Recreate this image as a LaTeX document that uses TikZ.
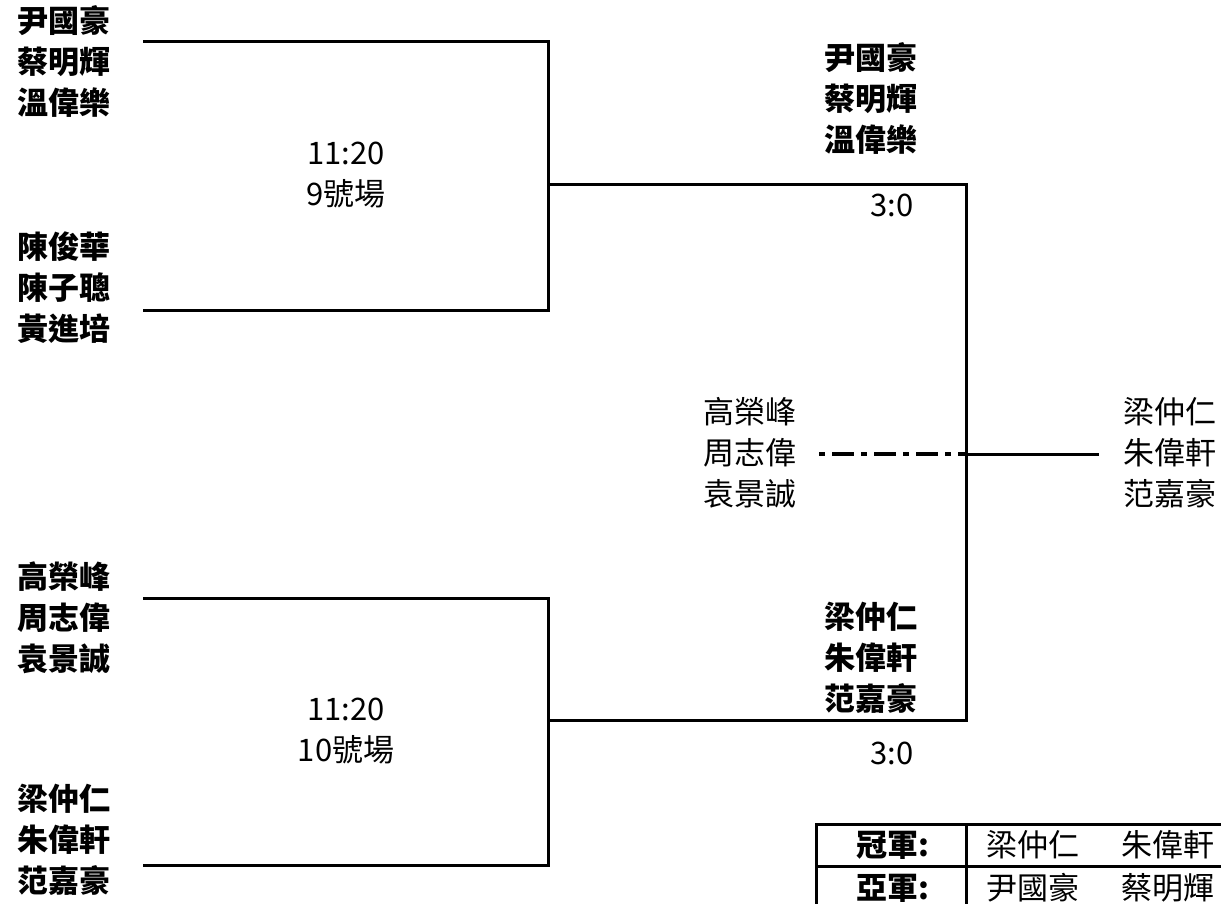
\documentclass[tikz,border=0pt]{standalone}
\usepackage{fontspec}
\setmainfont{Noto Sans CJK TC}
\begin{document}
\begin{tikzpicture}[
        x=1pt, y=-1pt,
        team/.style={font=\fontsize{31}{41}\selectfont\bfseries, align=left, inner sep=0pt},
        teamlight/.style={font=\fontsize{31}{41}\selectfont, align=left, inner sep=0pt},
        info/.style={font=\fontsize{31}{41}\selectfont, align=center, inner sep=0pt},
        line/.style={black, line width=3pt},
        dashline/.style={black, line width=4pt, dash pattern=on 6pt off 7pt on 22pt off 7pt}
    ]
    \useasboundingbox (0,0) rectangle (1221,904);
    \clip (0,0) rectangle (1221,904);
    % Nodes
    \node[team, anchor=west] (TA) at (17, 61) {尹國豪\\蔡明輝\\溫偉樂};
    \node[team, anchor=west] (TB) at (17, 288) {陳俊華\\陳子聰\\黃進培};
    \node[team, anchor=west] (TC) at (17, 618) {高榮峰\\周志偉\\袁景誠};
    \node[team, anchor=west] (TD) at (17, 840) {梁仲仁\\朱偉軒\\范嘉豪};
    \node[info] (M9) at (346, 175) {11:20\\9號場};
    \node[info] (M10) at (346, 731) {11:20\\10號場};
    \node[team] (WA) at (871, 98) {尹國豪\\蔡明輝\\溫偉樂};
    \node[team] (WD) at (871, 658) {梁仲仁\\朱偉軒\\范嘉豪};
    \node[info] (S9) at (892, 205) {3:0};
    \node[info] (S10) at (892, 753) {3:0};
    \node[teamlight, anchor=west] (LC) at (703, 453) {高榮峰\\周志偉\\袁景誠};
    \node[teamlight, anchor=west] (CH) at (1123, 453) {梁仲仁\\朱偉軒\\范嘉豪};
    % Bracket corners
    \coordinate (A1) at (143, 42);
    \coordinate (A2) at (548, 42);
    \coordinate (B1) at (143, 310);
    \coordinate (B2) at (548, 310);
    \coordinate (C1) at (143, 598);
    \coordinate (C2) at (548, 598);
    \coordinate (D1) at (143, 865);
    \coordinate (D2) at (548, 865);
    \coordinate (W1) at (548, 185);
    \coordinate (W2) at (966, 185);
    \coordinate (W3) at (548, 720);
    \coordinate (W4) at (966, 720);
    \coordinate (F0) at (819, 454);
    \coordinate (F1) at (966, 454);
    \coordinate (F2) at (1099, 454);
    % Lines
    \draw[line] (A1) -- (A2) -- (B2) -- (B1);
    \draw[line] (C1) -- (C2) -- (D2) -- (D1);
    \draw[line] (W1) -- (W2) -- (W4) -- (W3);
    \draw[line] (F1) -- (F2);
    \draw[dashline] (F0) -- (F1);
    % Result table
    \draw[line] (816, 824) rectangle (1240, 930);
    \draw[line] (816, 866) -- (1240, 866);
    \draw[line] (966, 824) -- (966, 930);
    \node[team] (R1) at (893, 845) {冠軍:};
    \node[team] (R2) at (893, 888) {亞軍:};
    \node[teamlight] (G1) at (1033, 845) {梁仲仁};
    \node[teamlight] (G2) at (1168, 845) {朱偉軒};
    \node[teamlight] (S1) at (1033, 888) {尹國豪};
    \node[teamlight] (S2) at (1168, 888) {蔡明輝};
\end{tikzpicture}
\end{document}
